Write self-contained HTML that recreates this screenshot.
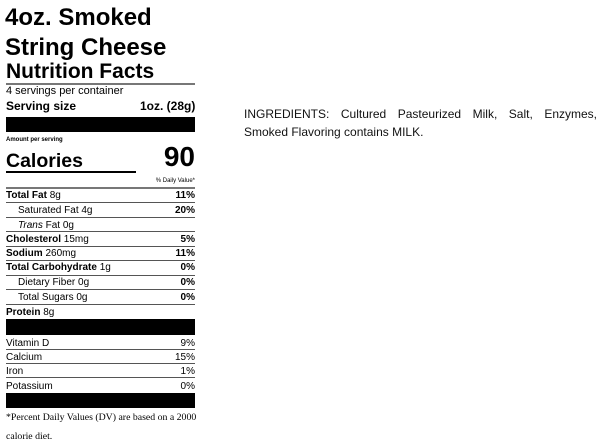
<!DOCTYPE html>
<html><head><meta charset="utf-8"><style>
body{margin:0;width:600px;height:444px;background:#fff;position:relative;overflow:hidden;font-family:"Liberation Sans",Arial,sans-serif;color:#000}
.a{position:absolute;white-space:nowrap}
.l{position:absolute;left:6px;width:189px;background:#555;height:1px}
.b{position:absolute;left:6px;width:189px;background:#000}
.r{position:absolute;left:6px;width:189px;font-size:10px;line-height:12px}
.r span.v{position:absolute;right:0;top:0;font-weight:bold}
.r.n span.v{font-weight:normal}
</style></head><body>
<div class="a" style="left:5px;top:3px;font-size:24px;font-weight:bold;line-height:30px">4oz. Smoked</div>
<div class="a" style="left:5px;top:33px;font-size:24px;font-weight:bold;line-height:30px">String Cheese</div>
<div class="a" style="left:6px;top:60px;font-size:21px;font-weight:bold;line-height:24px">Nutrition Facts</div>
<div class="l" style="top:83px;height:2px;background:#777"></div>
<div class="a" style="left:6px;top:85px;font-size:11px;line-height:13px">4 servings per container</div>
<div class="a" style="left:6px;top:99px;font-size:12px;font-weight:bold;line-height:14px">Serving size</div>
<div class="a" style="left:140px;top:99px;width:55px;text-align:right;font-size:12px;font-weight:bold;line-height:14px">1oz. (28g)</div>
<div class="b" style="top:117px;height:15px"></div>
<div class="a" style="left:6px;top:136px;font-size:6px;font-weight:bold;line-height:8px">Amount per serving</div>
<div class="a" style="left:6px;top:149px;font-size:19.5px;font-weight:bold;line-height:24px">Calories</div>
<div class="a" style="left:140px;top:142px;width:55px;text-align:right;font-size:28px;font-weight:bold;line-height:30px">90</div>
<div class="b" style="top:171px;height:2px;width:130px"></div>
<div class="a" style="left:120px;top:177px;width:75px;text-align:right;font-size:6px;line-height:8px">% Daily Value*</div>
<div class="l" style="top:187px;height:2px;background:#777"></div>
<div class="r" style="top:190px"><b>Total Fat</b> 8g<span class="v">11%</span></div>
<div class="l" style="top:202px"></div>
<div class="r" style="top:205px;padding-left:12px;width:177px">Saturated Fat 4g<span class="v">20%</span></div>
<div class="l" style="top:217px"></div>
<div class="r" style="top:220px;padding-left:12px;width:177px"><i>Trans</i> Fat 0g</div>
<div class="l" style="top:231px"></div>
<div class="r" style="top:234px"><b>Cholesterol</b> 15mg<span class="v">5%</span></div>
<div class="l" style="top:246px"></div>
<div class="r" style="top:248px"><b>Sodium</b> 260mg<span class="v">11%</span></div>
<div class="l" style="top:260px"></div>
<div class="r" style="top:262px"><b>Total Carbohydrate</b> 1g<span class="v">0%</span></div>
<div class="l" style="top:275px"></div>
<div class="r" style="top:277px;padding-left:12px;width:177px">Dietary Fiber 0g<span class="v">0%</span></div>
<div class="l" style="top:289px"></div>
<div class="r" style="top:292px;padding-left:12px;width:177px">Total Sugars 0g<span class="v">0%</span></div>
<div class="l" style="top:304px"></div>
<div class="r" style="top:307px"><b>Protein</b> 8g</div>
<div class="b" style="top:319px;height:16px"></div>
<div class="r n" style="top:338px">Vitamin D<span class="v">9%</span></div>
<div class="l" style="top:349px"></div>
<div class="r n" style="top:352px">Calcium<span class="v">15%</span></div>
<div class="l" style="top:363px"></div>
<div class="r n" style="top:366px">Iron<span class="v">1%</span></div>
<div class="l" style="top:377px"></div>
<div class="r n" style="top:381px">Potassium<span class="v">0%</span></div>
<div class="b" style="top:393px;height:15px"></div>
<div class="a" style="left:6px;top:408px;font-family:'Liberation Serif',serif;font-size:9.8px;line-height:19px">*Percent Daily Values (DV) are based on a 2000<br>calorie diet.</div>
<div class="a" style="left:244px;top:105px;width:353px;white-space:normal;text-align:justify;text-align-last:left;font-size:12px;line-height:18px;color:#111">INGREDIENTS: Cultured Pasteurized Milk, Salt, Enzymes, Smoked Flavoring contains MILK.</div>
</body></html>
